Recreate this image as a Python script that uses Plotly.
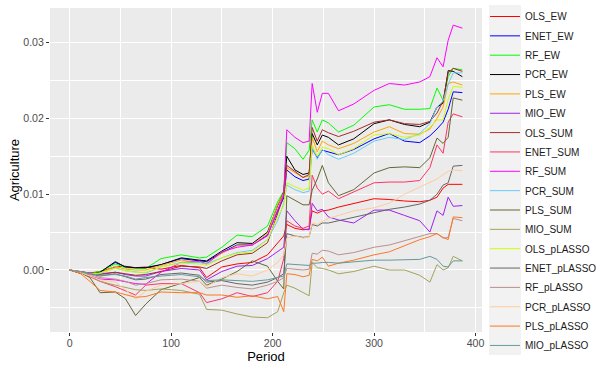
import plotly.graph_objects as go

PERIOD = [0, 10, 20, 30, 45, 55, 65, 75, 90, 110, 128, 135, 150, 165, 180, 195,
          205, 211, 214, 222, 230, 236, 239, 244, 249, 255, 265, 280, 300, 315,
          330, 345, 355, 362, 368, 373, 378, 387]

# Values in units of 1e-3 (per mille)
OLS_EW = [0, -0.2, -0.4, -0.2, 0.4, 0.5, 0.3, 0.4, 0.1, 0.6, 0.3, -1.0, 0.4, 0.8, 1.0, 2.0,
          3.5, 4.5, 6.0, 5.5, 5.3, 5.4, 7.8, 7.5, 7.8, 7.9, 8.3, 8.8, 9.4, 9.3,
          9.1, 9.0, 9.2, 9.6, 10.8, 11.3, 11.3, 11.3]
ENET_EW = [0, -0.4, -0.6, -0.3, 1.0, 0.4, 0.3, 0.3, 0.7, 1.5, 1.2, 1.1, 2.3, 3.3, 3.3, 4.6,
           7.8, 9.5, 13.2, 12.3, 11.8, 12.0, 16.0, 14.8, 15.8, 15.6, 15.2, 15.9, 17.3, 18.0,
           17.0, 16.8, 17.7, 18.6, 19.5, 21.2, 23.5, 23.4]
RF_EW = [0, -0.3, -0.5, -0.2, 0.8, 0.3, 0.3, 0.2, 1.5, 2.0, 1.6, 1.7, 3.0, 4.6, 4.4, 5.8,
         9.0, 10.4, 16.8, 16.0, 14.6, 15.8, 19.8, 18.2, 19.8, 19.4, 18.2, 19.1, 21.5, 21.8,
         21.2, 21.2, 21.3, 24.0, 22.4, 25.5, 26.6, 26.4]
PCR_EW = [0, -0.4, -0.6, -0.3, 1.1, 0.4, 0.3, 0.3, 0.7, 1.6, 1.3, 1.2, 2.5, 3.6, 3.5, 5.0,
          8.5, 10.3, 15.0, 13.2, 12.6, 12.8, 18.0, 16.5, 17.8, 17.5, 16.5, 17.3, 19.3, 19.8,
          19.2, 18.9, 19.5, 21.5, 22.0, 26.3, 26.2, 25.5]
PLS_EW = [0, -0.4, -0.6, -0.4, 0.5, 0.1, 0.0, 0.0, 0.6, 1.3, 1.0, 0.9, 2.2, 3.2, 3.3, 4.8,
          8.6, 10.2, 13.5, 12.8, 12.2, 12.4, 17.5, 15.6, 17.0, 16.5, 16.0, 16.7, 18.2, 18.9,
          18.0, 17.9, 18.6, 20.0, 21.5, 24.6, 24.8, 24.4]
MIO_EW = [0, -0.2, -0.4, -0.5, -0.3, -0.6, -0.8, -0.8, -0.2, 0.2, 0.0, -1.3, -0.2, 0.5, 0.6, 1.5,
          2.5, 3.0, 7.8, 6.5, 5.4, 5.3, 8.8, 7.8, 8.0, 7.0, 6.6, 6.2, 7.9, 7.9,
          7.2, 6.5, 5.0, 7.8, 7.2, 9.6, 8.4, 8.5]
OLS_SUM = [0, -0.2, -0.5, -0.6, -0.3, -0.5, -0.7, -0.6, -0.2, 0.5, 0.4, 0.2, 1.2, 2.0, 2.2, 3.6,
           7.5, 9.8, 13.8, 13.0, 12.2, 12.6, 18.8, 17.0, 18.5, 18.1, 17.6, 18.3, 19.5, 19.8,
           19.3, 19.2, 19.6, 20.7, 22.3, 26.0, 26.6, 26.2]
ENET_SUM = [0, -0.3, -0.9, -1.5, -2.2, -2.8, -3.3, -2.0, -1.8, -1.8, -3.0, -4.3, -3.8, -3.0, -3.5, -3.0,
            -1.5, 1.5, 6.5, 5.8, 5.5, 5.8, 12.5, 10.8, 10.0, 10.4, 9.4, 10.3, 11.5, 11.6,
            11.6, 11.8, 13.5, 16.5, 15.4, 19.5, 20.6, 20.2]
RF_SUM = [0, -0.3, -0.8, -1.2, -1.3, -1.6, -1.8, -1.9, -0.3, 1.0, 1.1, 0.8, 2.4, 3.0, 3.3, 4.5,
          8.0, 10.0, 18.5, 17.5, 16.8, 17.0, 24.6, 20.8, 23.3, 23.3, 21.0, 21.9, 23.7, 24.6,
          24.4, 24.8, 25.5, 28.0, 26.8, 30.3, 32.3, 31.9]
PCR_SUM = [0, -0.3, -0.5, -0.5, 0.3, -0.1, -0.3, -0.4, 0.4, 1.0, 1.0, 0.8, 1.6, 2.3, 2.6, 4.0,
           6.5, 8.8, 11.2, 10.6, 10.2, 10.4, 16.2, 14.6, 15.9, 15.2, 14.6, 15.4, 17.0, 17.5,
           17.2, 18.0, 19.3, 21.5, 22.3, 24.5, 26.0, 26.0]
PLS_SUM = [0, -0.3, -1.0, -3.0, -2.9, -3.8, -6.0, -4.5, -2.6, -1.8, -1.0, -2.0, -1.2, -0.2, 1.2, 0.5,
           -1.5, -2.5, 9.8, 9.2, 8.6, 8.6, 10.5, 12.0, 13.8, 11.5, 9.8, 10.6, 12.8, 13.5,
           13.6, 13.5, 14.8, 17.4, 16.7, 17.5, 22.7, 22.4]
MIO_SUM = [0, -0.3, -0.8, -1.5, -2.0, -2.3, -2.6, -2.7, -2.5, -2.7, -3.2, -5.2, -5.3, -5.8, -6.2, -6.3,
           -5.5, -3.0, -2.0, -2.4, -3.0, -3.4, 1.0, 0.3, 0.2, 0.0, -0.5, -0.2, 0.5, 0.0,
           0.0, -0.7, -1.6, 0.7, 0.0, 0.3, 1.8, 1.2]
OLS_pLASSO = [0, -0.3, -0.5, -0.4, 0.2, -0.1, -0.3, -0.3, 0.4, 0.9, 0.8, 0.6, 1.6, 2.2, 2.4, 4.0,
              7.0, 8.5, 11.5, 11.0, 10.5, 10.8, 16.5, 15.0, 16.2, 16.0, 15.2, 16.0, 17.8, 18.0,
              17.5, 17.8, 18.8, 19.8, 19.8, 22.5, 24.2, 24.1]
ENET_pLASSO = [0, -0.2, -0.5, -0.8, -0.5, -0.9, -1.3, -1.2, -0.6, -0.4, -0.7, -1.6, -1.4, -1.8, -2.0, -1.6,
               -1.0, -0.5, 4.8, 4.5, 4.3, 4.4, 6.0, 5.8, 6.2, 6.2, 6.5, 6.9, 7.6, 8.0,
               8.3, 8.7, 9.2, 10.0, 11.2, 11.5, 13.7, 13.8]
RF_pLASSO = [0, -0.2, -0.6, -1.0, -1.2, -1.5, -2.0, -1.8, -1.3, -1.2, -1.5, -2.4, -2.0, -2.3, -2.5, -2.0,
             -1.5, -1.0, 0.2, 0.1, 0.0, 0.1, 2.2, 2.1, 2.6, 2.5, 2.0, 2.3, 3.0, 3.3,
             3.9, 4.4, 4.8, 4.8, 4.2, 4.3, 6.8, 6.5]
PCR_pLASSO = [0, -0.3, -0.8, -1.3, -1.6, -2.6, -3.8, -2.8, -2.0, -1.8, -1.5, -2.2, -1.0, -0.5, -0.8, 0.0,
              1.0, 2.0, 4.2, 4.5, 4.2, 4.4, 6.2, 6.0, 6.4, 6.8, 7.2, 7.8, 8.2, 8.8,
              10.0, 10.9, 11.6, 12.0, 12.6, 13.0, 13.2, 13.1]
PLS_pLASSO = [0, -0.4, -1.5, -2.7, -2.9, -3.3, -3.6, -3.5, -2.9, -3.0, -3.0, -3.3, -3.3, -3.6, -3.4, -3.8,
              -3.5, -5.5, -0.5, -0.6, -0.9, -0.7, 1.4, 1.2, 1.7, 0.5, 0.9, 1.3, 2.0, 2.4,
              3.2, 4.0, 4.4, 4.8, 4.3, 4.0, 7.0, 6.9]
MIO_pLASSO = [0, -0.2, -0.5, -0.7, -0.6, -0.8, -1.2, -1.0, -0.8, -0.6, -0.9, -1.4, -1.3, -1.4, -1.5, -1.3,
              -1.0, -0.8, 0.8, 0.7, 0.6, 0.6, 0.9, 0.9, 1.0, 1.0, 0.9, 1.1, 1.3, 1.3,
              1.3, 1.4, 1.8, 1.4, 0.5, 0.4, 1.2, 1.2]

SERIES = [
    ("OLS_EW", OLS_EW, "#FF0000"),
    ("ENET_EW", ENET_EW, "#0000FF"),
    ("RF_EW", RF_EW, "#00FF00"),
    ("PCR_EW", PCR_EW, "#000000"),
    ("PLS_EW", PLS_EW, "#FFA500"),
    ("MIO_EW", MIO_EW, "#A020F0"),
    ("OLS_SUM", OLS_SUM, "#A52A2A"),
    ("ENET_SUM", ENET_SUM, "#FF3366"),
    ("RF_SUM", RF_SUM, "#FF00FF"),
    ("PCR_SUM", PCR_SUM, "#66CCFF"),
    ("PLS_SUM", PLS_SUM, "#666633"),
    ("MIO_SUM", MIO_SUM, "#A3A35C"),
    ("OLS_pLASSO", OLS_pLASSO, "#CCFF00"),
    ("ENET_pLASSO", ENET_pLASSO, "#666666"),
    ("RF_pLASSO", RF_pLASSO, "#BC8F8F"),
    ("PCR_pLASSO", PCR_pLASSO, "#FFCC99"),
    ("PLS_pLASSO", PLS_pLASSO, "#FF7722"),
    ("MIO_pLASSO", MIO_pLASSO, "#669999"),
]

X_TICKS = [0, 100, 200, 300, 400]
Y_TICKS = [0.0, 0.01, 0.02, 0.03]
Y_TICK_LABELS = ["0.00", "0.01", "0.02", "0.03"]

fig = go.Figure()
for name, vals, color in SERIES:
    fig.add_trace(go.Scatter(
        x=PERIOD, y=[v / 1000.0 for v in vals], mode="lines", name=name,
        legendgroup=name, line=dict(color=color, width=1)))

FONT = "Liberation Sans, Arial, sans-serif"
PL, PT, PW, PH = 50, 8, 432, 324   # plot panel in pixels


def px_x(p):
    return (p - PL) / PW


def px_y(p):
    return (PT + PH - p) / PH


fig.update_layout(
    width=597, height=367,
    margin=dict(l=PL, r=597 - PL - PW, t=PT, b=367 - PT - PH, autoexpand=False),
    paper_bgcolor="white", plot_bgcolor="#EBEBEB",
    font=dict(family=FONT, size=10.6, color="#4D4D4D"),
    showlegend=True,
    legend=dict(x=px_x(485), xanchor="left", y=px_y(2), yanchor="top",
                font=dict(family=FONT, size=10.0, color="#1A1A1A"),
                tracegroupgap=0.35, bgcolor="rgba(0,0,0,0)", itemwidth=30,
                maxheight=400),
    shapes=[dict(type="rect", xref="paper", yref="paper",
                 x0=px_x(489), x1=px_x(521), y0=px_y(355), y1=px_y(5),
                 fillcolor="#F2F2F2", line=dict(width=0), layer="below")],
)
fig.update_xaxes(
    range=[-19.35, 406.35], tickvals=X_TICKS, showgrid=True, gridcolor="white", gridwidth=1.1,
    minor=dict(tickvals=[50, 150, 250, 350], showgrid=True, gridcolor="white", gridwidth=0.55, ticks=""),
    ticks="outside", ticklen=3, tickcolor="#333333", tickwidth=1, zeroline=False,
    automargin=False, ticklabelstandoff=-2,
    tickfont=dict(family=FONT, size=10.6, color="#4D4D4D"),
    title=dict(text="Period", font=dict(family=FONT, size=13, color="black"), standoff=0),
)
fig.update_yaxes(
    range=[-0.00818, 0.03456], tickvals=Y_TICKS, ticktext=Y_TICK_LABELS, showgrid=True,
    gridcolor="white", gridwidth=1.1,
    minor=dict(tickvals=[-0.005, 0.005, 0.015, 0.025], showgrid=True, gridcolor="white", gridwidth=0.55, ticks=""),
    ticks="outside", ticklen=3, tickcolor="#333333", tickwidth=1, zeroline=False,
    automargin=False,
    tickfont=dict(family=FONT, size=10.6, color="#4D4D4D"),
    title=dict(text="Agriculture", font=dict(family=FONT, size=13, color="black"), standoff=0),
)

fig.write_html("out.html", config={"displayModeBar": False},
               post_script="document.body.style.margin='0px';")
